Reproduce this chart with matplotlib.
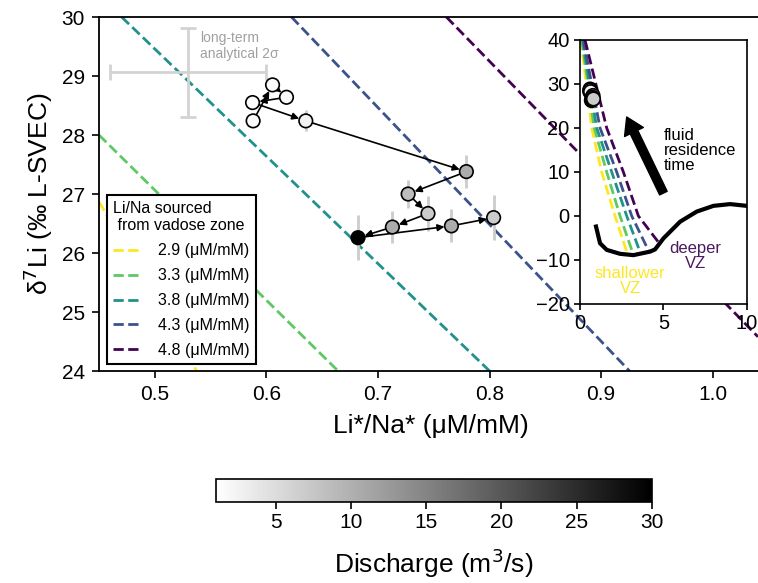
import numpy as np
import matplotlib
matplotlib.use("Agg")
import matplotlib.pyplot as plt

plt.rcParams['font.family'] = ['Liberation Sans', 'DejaVu Sans']

# river samples, in time order
li_na = [0.5881, 0.6055, 0.618, 0.5876, 0.6353, 0.7792, 0.727, 0.7448, 0.7129, 0.6821, 0.7658, 0.8036]
d7li = [28.24, 28.85, 28.64, 28.55, 28.24, 27.38, 27.00, 26.67, 26.44, 26.26, 26.46, 26.60]
d7li_err = [0.10, 0.10, 0.10, 0.10, 0.18, 0.28, 0.24, 0.30, 0.27, 0.38, 0.28, 0.38]
discharge = [1.5, 1.5, 1.5, 1.5, 2.5, 10.5, 8.5, 7.0, 10.5, 30.0, 10.5, 7.0]

# long-term analytical 2 sigma
ref_x, ref_y = 0.53, 29.06
ref_xerr, ref_yerr = 0.07, 0.75

# mixing lines (Li/Na of vadose zone endmember)
vz_ratio = [2.9, 3.3, 3.8, 4.3, 4.8]
vz_colors = ['#fde725', '#5ec962', '#21918c', '#3b528b', '#440154']
# two points on each line in the main panel
main_x = [[0.45, 0.5375], [0.45, 0.6643], [0.4703, 0.80], [0.6225, 0.9254], [0.7613, 1.0405]]
main_y = [[26.87, 24.0], [28.0, 24.0], [30.0, 24.0], [30.0, 24.0], [30.0, 24.58]]
# same lines at full scale (inset)
inset_x = [[0.05, 0.70, 1.3, 2.1, 2.85], [0.10, 0.85, 1.6, 2.4, 3.2],
           [0.15, 1.00, 1.9, 2.8, 3.65], [0.20, 1.20, 2.2, 3.1, 4.15],
           [0.30, 1.60, 2.6, 3.5, 4.75]]
inset_y = [[40, 20, 10, 0, -8.7], [40, 20, 10, 0, -8.8], [40, 20, 10, 0, -8.7],
           [40, 20, 10, 0, -8.2], [40, 20, 10, 0, -6.2]]

# vadose zone d7Li profile (inset)
vz_x = [0.96, 1.2, 1.6, 2.4, 3.2, 4.2, 4.5, 5.0, 6.0, 7.0, 8.0, 9.0, 10.0]
vz_y = [-2.4, -6.2, -7.7, -8.6, -8.9, -8.1, -7.6, -5.1, -1.3, 1.0, 2.3, 2.7, 2.3]

fig = plt.figure(figsize=(7.58, 5.83), dpi=100)
ax = fig.add_axes([0.1306, 0.3636, 0.876, 0.6072])

for r, c, xs, ys in zip(vz_ratio, vz_colors, main_x, main_y):
    ax.plot(xs, ys, ls='--', color=c, lw=2, label=f'{r} (μM/mM)', zorder=1)

ax.errorbar([ref_x], [ref_y], xerr=ref_xerr, yerr=ref_yerr, fmt='none',
            ecolor='#d3d3d3', elinewidth=2, capsize=6, capthick=2, zorder=1)
ax.text(0.5404, 29.76, 'long-term\nanalytical 2σ', color='#a0a0a0', fontsize=10,
        ha='left', va='top', linespacing=1.15)

ax.errorbar(li_na, d7li, yerr=d7li_err, fmt='none', ecolor='#cccccc', elinewidth=2, zorder=2)

for i in range(len(li_na) - 1):
    ax.annotate('', xy=(li_na[i + 1], d7li[i + 1]), xytext=(li_na[i], d7li[i]),
                arrowprops=dict(arrowstyle='-|>', color='k', lw=1.2, mutation_scale=10,
                                shrinkA=0, shrinkB=5), zorder=3)

sc = ax.scatter(li_na, d7li, c=discharge, cmap='gray_r', vmin=1, vmax=30, s=95,
                edgecolors='k', linewidths=1.2, zorder=4)

ax.set_xlim(0.45, 1.045)
ax.set_ylim(24, 30)
ax.set_xticks([0.5, 0.6, 0.7, 0.8, 0.9, 1.0])
ax.set_yticks(range(24, 31))
ax.tick_params(labelsize=15, length=5, width=1.2, pad=5)
for s in ax.spines.values():
    s.set_linewidth(1.3)
ax.set_xlabel('Li*/Na* (μM/mM)', fontsize=19, labelpad=7)
ax.set_ylabel('δ$^7$Li (‰ L-SVEC)', fontsize=19, labelpad=5)

leg = ax.legend(title='Li/Na sourced\n from vadose zone', loc='lower left',
                bbox_to_anchor=(0.0116, 0.019), borderaxespad=0, fontsize=11.5,
                title_fontsize=11.5, fancybox=False, framealpha=1, edgecolor='k',
                handlelength=1.7, handletextpad=1.1, labelspacing=0.62)
leg.get_frame().set_linewidth(1.5)
leg._legend_box.align = 'left'

# inset
ins = fig.add_axes([0.7652, 0.4786, 0.22, 0.4528])
for c, xs, ys in zip(vz_colors, inset_x, inset_y):
    ins.plot(xs, ys, ls='--', color=c, lw=2)
ins.plot(vz_x, vz_y, color='k', lw=3)
ins.scatter(li_na, d7li, c=discharge, cmap='gray_r', vmin=1, vmax=30, s=95,
            edgecolors='k', linewidths=1.2, zorder=4)
ins.annotate('', xy=(2.8, 22.5), xytext=(5.0, 5.2),
             arrowprops=dict(width=6, headwidth=15, headlength=12, color='k'))
ins.text(5.0, 20.0, 'fluid\nresidence\ntime', fontsize=12, ha='left', va='top', linespacing=1.0)
ins.text(6.9, -9.2, 'deeper\nVZ', fontsize=12, color='#4b1a63', ha='center', va='center',
         linespacing=1.0)
ins.text(3.0, -14.8, 'shallower\nVZ', fontsize=12, color='#fde725', ha='center', va='center',
         linespacing=1.0)
ins.set_xlim(0, 10)
ins.set_ylim(-20, 40)
ins.set_xticks([0, 5, 10])
ins.set_yticks(range(-20, 41, 10))
ins.tick_params(labelsize=14.5, length=4, width=1.2)
for s in ins.spines.values():
    s.set_linewidth(1.2)

# colorbar
cax = fig.add_axes([0.2846, 0.1395, 0.5752, 0.0384])
cb = fig.colorbar(sc, cax=cax, orientation='horizontal', ticks=[5, 10, 15, 20, 25, 30])
cb.ax.tick_params(labelsize=15, length=5, width=1.2)
cb.outline.set_linewidth(1.2)
cb.set_label('Discharge (m$^3$/s)', fontsize=19, labelpad=10)

fig.savefig('out.png', dpi=100)
